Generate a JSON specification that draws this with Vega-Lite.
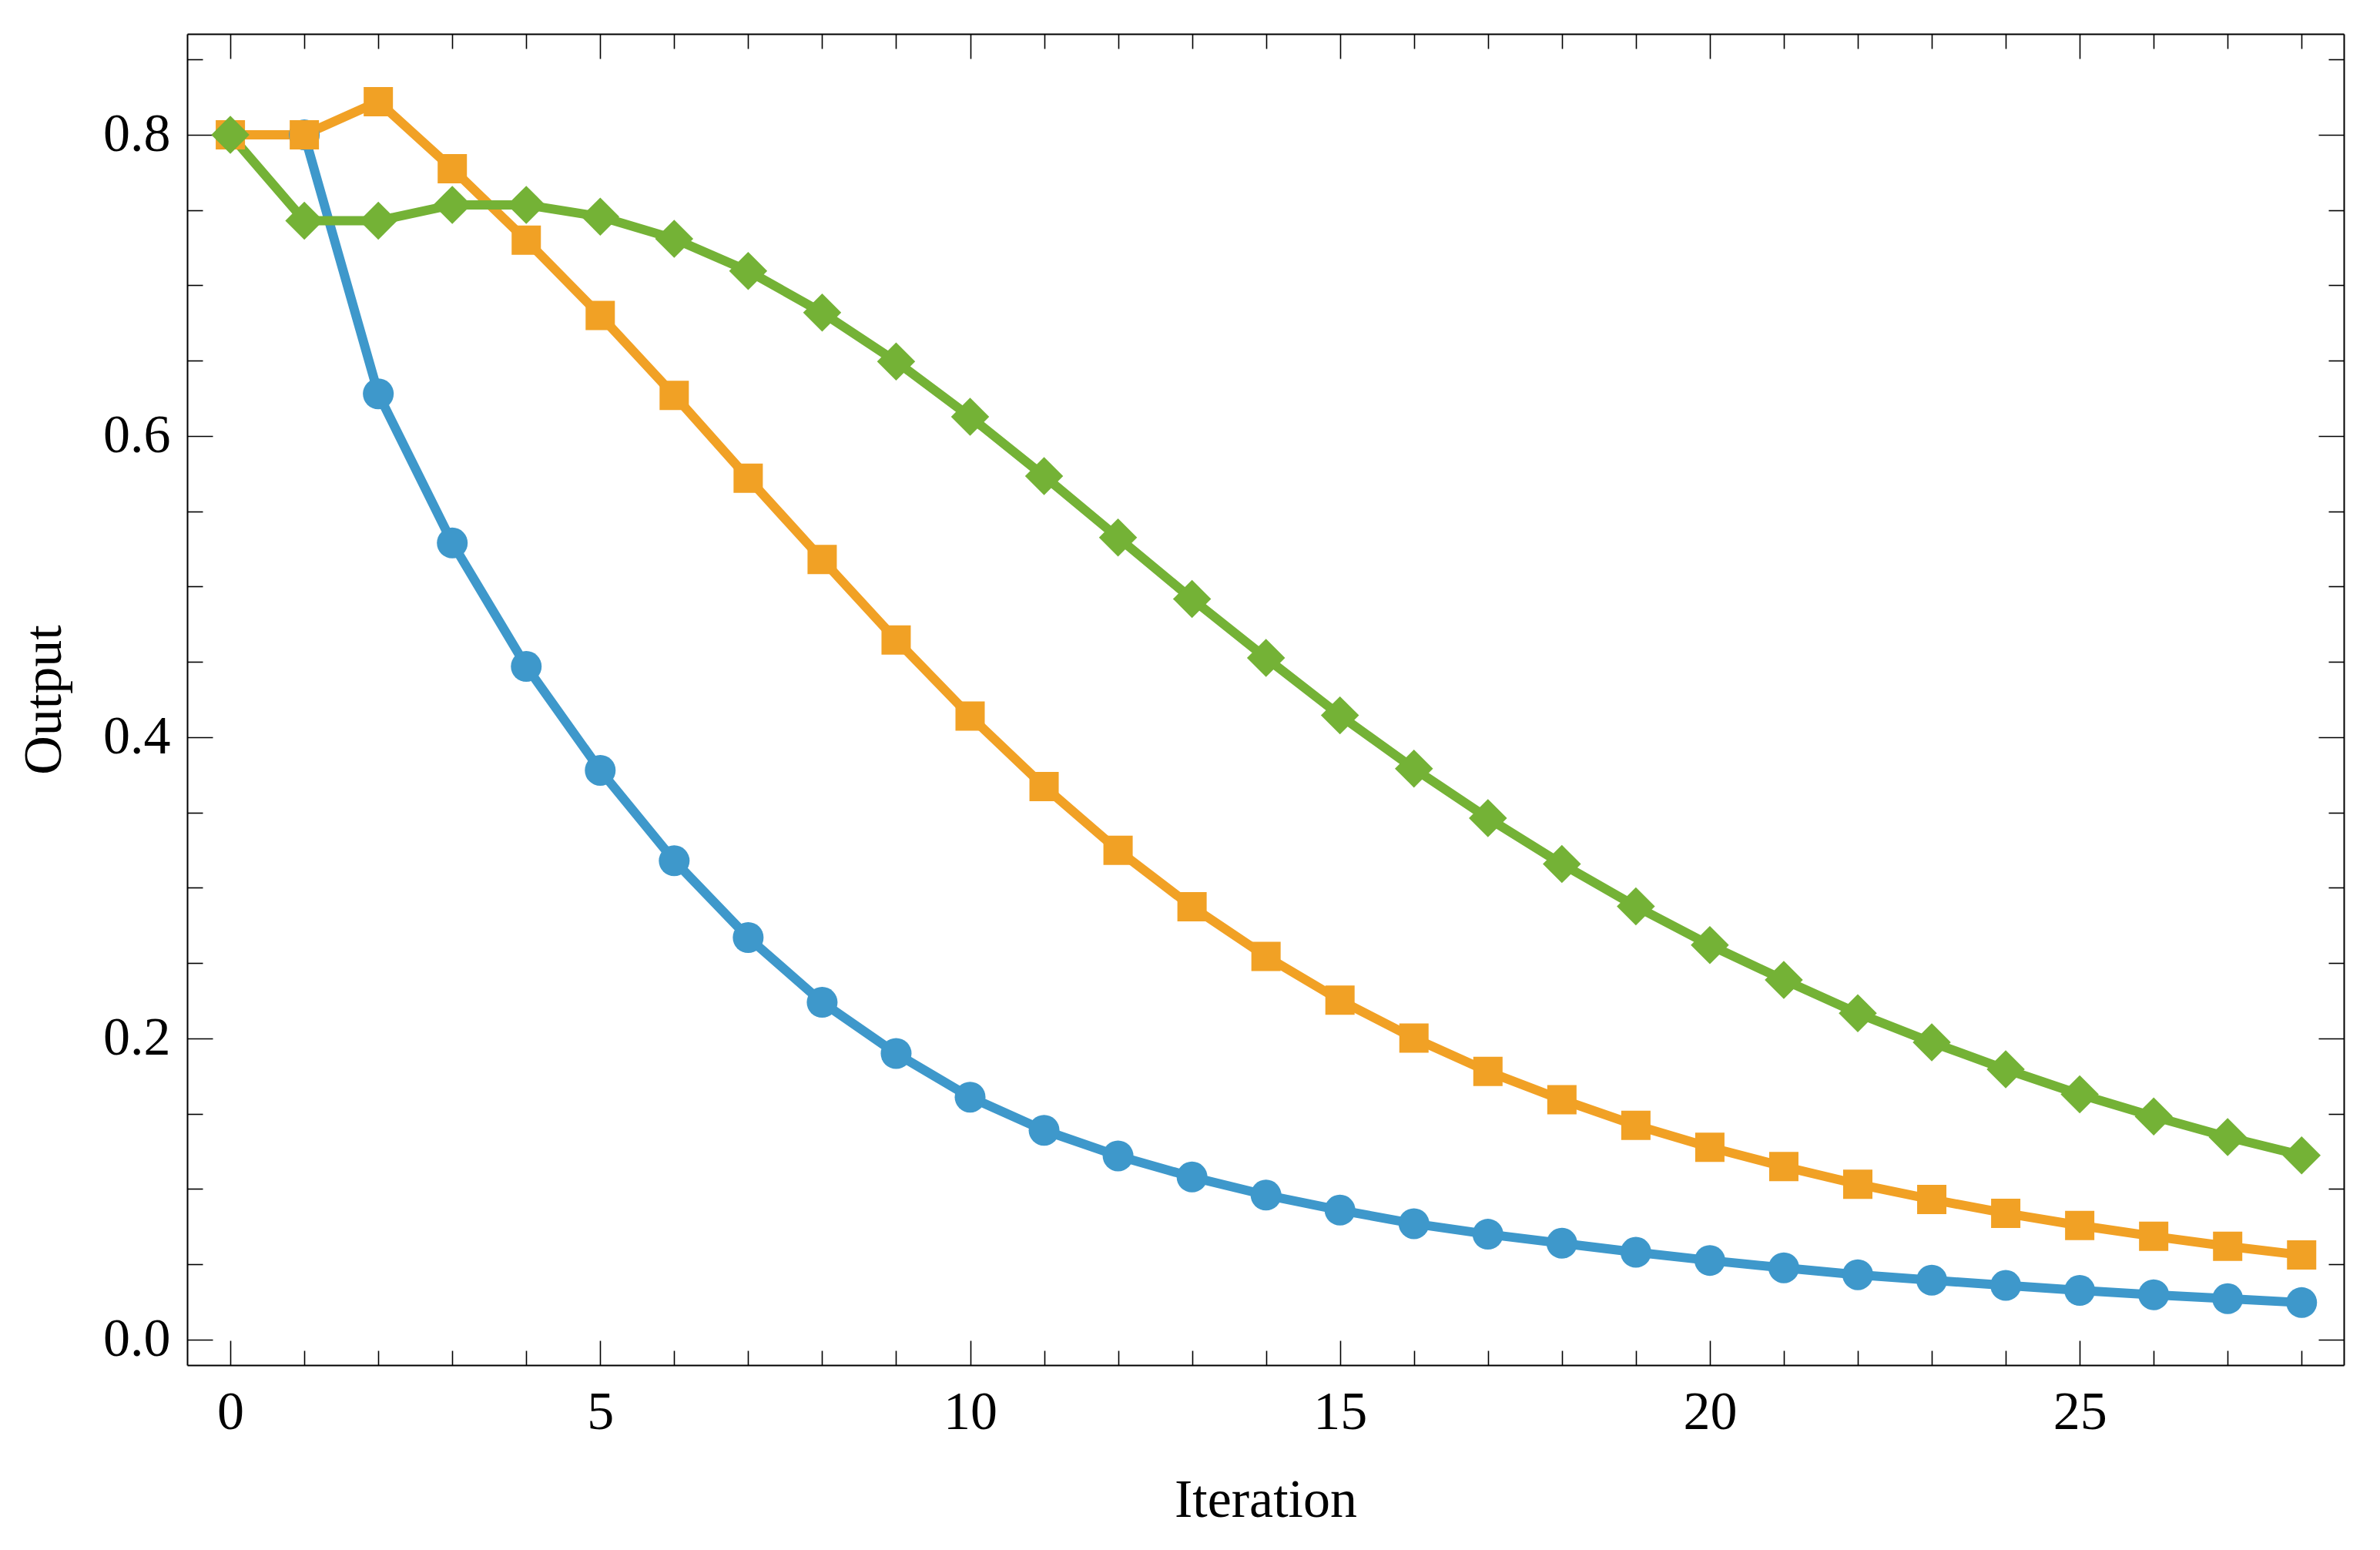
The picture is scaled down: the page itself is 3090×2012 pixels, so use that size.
{
  "$schema": "https://vega.github.io/schema/vega-lite/v6.json",
  "description": "Output against iteration for three series.",
  "width": 2800,
  "height": 1728,
  "autosize": "none",
  "padding": {"left": 243, "top": 44, "right": 47, "bottom": 240},
  "background": "white",
  "data": {
    "values": [
      {"iteration": 1, "output": 0.8, "series": "Series 1"},
      {"iteration": 2, "output": 0.628, "series": "Series 1"},
      {"iteration": 3, "output": 0.529, "series": "Series 1"},
      {"iteration": 4, "output": 0.447, "series": "Series 1"},
      {"iteration": 5, "output": 0.378, "series": "Series 1"},
      {"iteration": 6, "output": 0.318, "series": "Series 1"},
      {"iteration": 7, "output": 0.267, "series": "Series 1"},
      {"iteration": 8, "output": 0.224, "series": "Series 1"},
      {"iteration": 9, "output": 0.19, "series": "Series 1"},
      {"iteration": 10, "output": 0.161, "series": "Series 1"},
      {"iteration": 11, "output": 0.139, "series": "Series 1"},
      {"iteration": 12, "output": 0.122, "series": "Series 1"},
      {"iteration": 13, "output": 0.108, "series": "Series 1"},
      {"iteration": 14, "output": 0.096, "series": "Series 1"},
      {"iteration": 15, "output": 0.086, "series": "Series 1"},
      {"iteration": 16, "output": 0.077, "series": "Series 1"},
      {"iteration": 17, "output": 0.07, "series": "Series 1"},
      {"iteration": 18, "output": 0.064, "series": "Series 1"},
      {"iteration": 19, "output": 0.058, "series": "Series 1"},
      {"iteration": 20, "output": 0.0526, "series": "Series 1"},
      {"iteration": 21, "output": 0.0477, "series": "Series 1"},
      {"iteration": 22, "output": 0.0431, "series": "Series 1"},
      {"iteration": 23, "output": 0.0395, "series": "Series 1"},
      {"iteration": 24, "output": 0.036, "series": "Series 1"},
      {"iteration": 25, "output": 0.0327, "series": "Series 1"},
      {"iteration": 26, "output": 0.0298, "series": "Series 1"},
      {"iteration": 27, "output": 0.0272, "series": "Series 1"},
      {"iteration": 28, "output": 0.0246, "series": "Series 1"},
      {"iteration": 0, "output": 0.8, "series": "Series 2"},
      {"iteration": 1, "output": 0.8, "series": "Series 2"},
      {"iteration": 2, "output": 0.822, "series": "Series 2"},
      {"iteration": 3, "output": 0.7775, "series": "Series 2"},
      {"iteration": 4, "output": 0.73, "series": "Series 2"},
      {"iteration": 5, "output": 0.68, "series": "Series 2"},
      {"iteration": 6, "output": 0.627, "series": "Series 2"},
      {"iteration": 7, "output": 0.572, "series": "Series 2"},
      {"iteration": 8, "output": 0.518, "series": "Series 2"},
      {"iteration": 9, "output": 0.4646, "series": "Series 2"},
      {"iteration": 10, "output": 0.414, "series": "Series 2"},
      {"iteration": 11, "output": 0.3673, "series": "Series 2"},
      {"iteration": 12, "output": 0.3249, "series": "Series 2"},
      {"iteration": 13, "output": 0.2874, "series": "Series 2"},
      {"iteration": 14, "output": 0.2545, "series": "Series 2"},
      {"iteration": 15, "output": 0.2254, "series": "Series 2"},
      {"iteration": 16, "output": 0.2002, "series": "Series 2"},
      {"iteration": 17, "output": 0.1781, "series": "Series 2"},
      {"iteration": 18, "output": 0.1593, "series": "Series 2"},
      {"iteration": 19, "output": 0.1423, "series": "Series 2"},
      {"iteration": 20, "output": 0.1277, "series": "Series 2"},
      {"iteration": 21, "output": 0.1149, "series": "Series 2"},
      {"iteration": 22, "output": 0.1032, "series": "Series 2"},
      {"iteration": 23, "output": 0.0931, "series": "Series 2"},
      {"iteration": 24, "output": 0.0839, "series": "Series 2"},
      {"iteration": 25, "output": 0.0758, "series": "Series 2"},
      {"iteration": 26, "output": 0.0686, "series": "Series 2"},
      {"iteration": 27, "output": 0.062, "series": "Series 2"},
      {"iteration": 28, "output": 0.0562, "series": "Series 2"},
      {"iteration": 0, "output": 0.8, "series": "Series 3"},
      {"iteration": 1, "output": 0.743, "series": "Series 3"},
      {"iteration": 2, "output": 0.743, "series": "Series 3"},
      {"iteration": 3, "output": 0.7535, "series": "Series 3"},
      {"iteration": 4, "output": 0.7535, "series": "Series 3"},
      {"iteration": 5, "output": 0.7457, "series": "Series 3"},
      {"iteration": 6, "output": 0.731, "series": "Series 3"},
      {"iteration": 7, "output": 0.7096, "series": "Series 3"},
      {"iteration": 8, "output": 0.682, "series": "Series 3"},
      {"iteration": 9, "output": 0.6495, "series": "Series 3"},
      {"iteration": 10, "output": 0.6128, "series": "Series 3"},
      {"iteration": 11, "output": 0.5734, "series": "Series 3"},
      {"iteration": 12, "output": 0.5326, "series": "Series 3"},
      {"iteration": 13, "output": 0.4918, "series": "Series 3"},
      {"iteration": 14, "output": 0.4527, "series": "Series 3"},
      {"iteration": 15, "output": 0.4145, "series": "Series 3"},
      {"iteration": 16, "output": 0.3792, "series": "Series 3"},
      {"iteration": 17, "output": 0.3463, "series": "Series 3"},
      {"iteration": 18, "output": 0.3158, "series": "Series 3"},
      {"iteration": 19, "output": 0.2877, "series": "Series 3"},
      {"iteration": 20, "output": 0.262, "series": "Series 3"},
      {"iteration": 21, "output": 0.2389, "series": "Series 3"},
      {"iteration": 22, "output": 0.2167, "series": "Series 3"},
      {"iteration": 23, "output": 0.1974, "series": "Series 3"},
      {"iteration": 24, "output": 0.1795, "series": "Series 3"},
      {"iteration": 25, "output": 0.1629, "series": "Series 3"},
      {"iteration": 26, "output": 0.1482, "series": "Series 3"},
      {"iteration": 27, "output": 0.1345, "series": "Series 3"},
      {"iteration": 28, "output": 0.1224, "series": "Series 3"}
    ]
  },
  "layer": [
    {
      "mark": {"type": "line", "strokeWidth": 12, "strokeJoin": "round"},
      "encoding": {
        "x": {
          "field": "iteration", "type": "quantitative",
          "scale": {"domain": [-0.584, 28.57], "nice": false, "zero": false},
          "axis": {
            "orient": "bottom", "title": "Iteration", "titlePadding": 45,
            "values": [0,1,2,3,4,5,6,7,8,9,10,11,12,13,14,15,16,17,18,19,20,21,22,23,24,25,26,27,28],
            "labelExpr": "datum.value % 5 === 0 ? datum.label : ''",
            "tickSize": {"condition": {"test": "datum.value % 5 === 0", "value": -32}, "value": -19},
            "labelPadding": 59
          }
        },
        "y": {
          "field": "output", "type": "quantitative",
          "scale": {"domain": [-0.0169, 0.867], "nice": false, "zero": false},
          "axis": {
            "orient": "left", "title": "Output", "titlePadding": 40,
            "values": [0,0.05,0.1,0.15,0.2,0.25,0.3,0.35,0.4,0.45,0.5,0.55,0.6,0.65,0.7,0.75,0.8,0.85],
            "labelExpr": "round(datum.value * 100) % 20 === 0 ? format(datum.value, '.1f') : ''",
            "tickSize": {"condition": {"test": "round(datum.value * 100) % 20 === 0", "value": -33}, "value": -20},
            "labelPadding": 55
          }
        },
        "color": {
          "field": "series", "type": "nominal", "legend": null,
          "scale": {"domain": ["Series 1", "Series 2", "Series 3"], "range": ["#3e98cb", "#f1a125", "#74b236"]}
        }
      }
    },
    {
      "mark": {"type": "point", "filled": true, "opacity": 1, "strokeWidth": 0},
      "encoding": {
        "x": {
          "field": "iteration", "type": "quantitative",
          "scale": {"domain": [-0.584, 28.57], "nice": false, "zero": false},
          "axis": {
            "orient": "top", "title": null, "labels": false,
            "values": [0,1,2,3,4,5,6,7,8,9,10,11,12,13,14,15,16,17,18,19,20,21,22,23,24,25,26,27,28],
            "tickSize": {"condition": {"test": "datum.value % 5 === 0", "value": -32}, "value": -19}
          }
        },
        "y": {
          "field": "output", "type": "quantitative",
          "scale": {"domain": [-0.0169, 0.867], "nice": false, "zero": false},
          "axis": {
            "orient": "right", "title": null, "labels": false,
            "values": [0,0.05,0.1,0.15,0.2,0.25,0.3,0.35,0.4,0.45,0.5,0.55,0.6,0.65,0.7,0.75,0.8,0.85],
            "tickSize": {"condition": {"test": "round(datum.value * 100) % 20 === 0", "value": -33}, "value": -20}
          }
        },
        "color": {
          "field": "series", "type": "nominal", "legend": null,
          "scale": {"domain": ["Series 1", "Series 2", "Series 3"], "range": ["#3e98cb", "#f1a125", "#74b236"]}
        },
        "shape": {
          "field": "series", "type": "nominal", "legend": null,
          "scale": {"domain": ["Series 1", "Series 2", "Series 3"], "range": ["circle", "square", "M0,-1L1,0L0,1L-1,0Z"]}
        },
        "size": {
          "condition": [
            {"test": "datum.series === 'Series 3'", "value": 2450},
            {"test": "datum.series === 'Series 2'", "value": 1444}
          ],
          "value": 1600
        }
      }
    }
  ],
  "resolve": {"axis": {"x": "independent", "y": "independent"}},
  "config": {
    "view": {"stroke": null},
    "axis": {
      "grid": false,
      "domain": true,
      "domainColor": "#000000",
      "domainWidth": 2,
      "tickColor": "#000000",
      "tickWidth": 1.6,
      "labelFont": "Liberation Serif",
      "labelFontSize": 70,
      "labelColor": "#000000",
      "titleFont": "Liberation Serif",
      "titleFontSize": 70,
      "titleFontWeight": "normal",
      "titleColor": "#000000"
    }
  }
}
